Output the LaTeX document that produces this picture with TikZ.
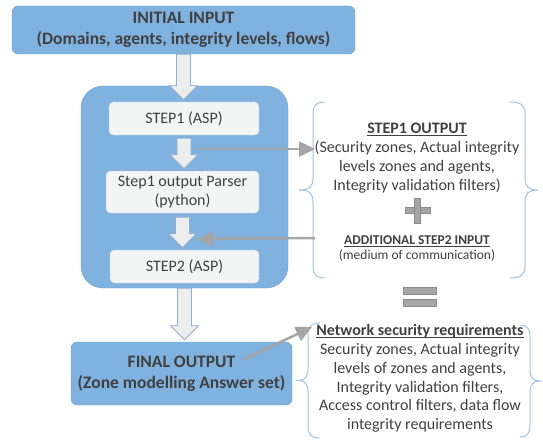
\documentclass[tikz,border=0pt]{standalone}
\usepackage{fontspec}
\setmainfont{Carlito}
\usepackage{tikz}
\usetikzlibrary{positioning}
\usetikzlibrary{arrows.meta}
\usetikzlibrary{calc}

\definecolor{boxblue}{HTML}{7FB2DF}
\definecolor{boxline}{HTML}{6C9ECF}
\definecolor{stepfill}{HTML}{F3F4F4}
\definecolor{stepline}{HTML}{AFCBE6}
\definecolor{txtgray}{HTML}{404040}
\definecolor{arrowgray}{HTML}{A5A5A5}
\definecolor{bracecol}{HTML}{9DC3E6}
\definecolor{blockfill}{HTML}{EDEDED}
\definecolor{blockline}{HTML}{92AECC}

\tikzset{
  bluebox/.style={draw=boxline,fill=boxblue,rounded corners=6pt,text=txtgray,align=center,
    font=\fontsize{17.5}{21}\selectfont\bfseries},
  stepbox/.style={draw=stepline,fill=stepfill,rounded corners=4pt,text=txtgray,align=center,
    font=\fontsize{16}{19}\selectfont},
  blockstyle/.style={draw=blockline,fill=blockfill,line width=0.8pt},
  grayarrow/.style={draw=arrowgray,line width=2.5pt,-{Triangle[length=16pt,width=15pt]}},
  bracestyle/.style={draw=bracecol,line width=1pt},
  signstyle/.style={fill=arrowgray,draw=arrowgray!85!black,line width=0.5pt},
  plaintext/.style={text=txtgray,align=center,inner sep=0pt}
}

% underline at a fixed depth
\newcommand{\uln}[1]{\setbox0\hbox{#1}\rlap{\rule[-2.2pt]{\wd0}{1.1pt}}\box0}

% block arrow: [gap] upper anchor, lower anchor
\newcommand{\blockarrow}[3][0]{%
  \coordinate (ba top) at ($(#2)+(0,#1)$);
  \coordinate (ba tip) at ($(#3 -| ba top)+(0,-2)$);
  \draw[blockstyle] ($(ba top)+(-7,0)$) -- ($(ba tip)+(-7,-14)$) -- ($(ba tip)+(-14,-14)$)
    -- (ba tip) -- ($(ba tip)+(14,-14)$) -- ($(ba tip)+(7,-14)$) -- ($(ba top)+(7,0)$) -- cycle;}

% curly brace: x of the spine, top y, bottom y, end offset, tip offset
\newcommand{\curly}[5]{%
  \pgfmathsetmacro{\ymid}{(#2+#3)/2}
  \draw[bracestyle] ({#1+#4},#2) .. controls ({#1+0.3*#4},#2) and (#1,{#2+3}) .. (#1,{#2+12})
    -- (#1,{\ymid-12}) .. controls (#1,{\ymid-3}) and ({#1-0.3*#5},\ymid) .. ({#1-#5},\ymid)
    .. controls ({#1-0.3*#5},\ymid) and (#1,{\ymid+3}) .. (#1,{\ymid+12})
    -- (#1,{#3-12}) .. controls (#1,{#3-3}) and ({#1+0.3*#4},#3) .. ({#1+#4},#3);}

\begin{document}
\begin{tikzpicture}[x=1pt,y=-1pt]
    \useasboundingbox (0,0) rectangle (543,441);

    % left column
    \node (container) [bluebox, rounded corners=22pt, minimum width=207pt, minimum height=202pt] at (184.5,187) {};
    \node (initial) [bluebox, minimum width=343pt, minimum height=48pt] at (183.5,30)
        {INITIAL INPUT\\(Domains, agents, integrity levels, flows)};
    \node (step1) [stepbox, minimum width=150pt, minimum height=33pt] at (184,118.5) {STEP1 (ASP)};
    \node (parser) [stepbox, minimum width=153pt, minimum height=42pt] at (182.5,192) {Step1 output Parser\\(python)};
    \node (step2) [stepbox, minimum width=149pt, minimum height=33pt] at (184.5,266.5) {STEP2 (ASP)};
    \node (final) [bluebox, minimum width=221pt, minimum height=63pt] at (181.5,373.5)
        {FINAL OUTPUT\\(Zone modelling Answer set)};

    \blockarrow{initial.south}{step1.north}
    \blockarrow[3]{step1.south}{parser.north}
    \blockarrow[4]{parser.south}{step2.north}
    \blockarrow{container.south}{final.north}

    % right column
    \node (step1out) [plaintext, font=\fontsize{16}{19}\selectfont] at (417,158.5)
        {\textbf{\uln{STEP1 OUTPUT}}\\(Security zones, Actual integrity\\levels zones and agents,\\Integrity validation filters)};
    \node (step2in) [plaintext, font=\fontsize{13.5}{15}\selectfont] at (417,248.5)
        {\textbf{\uln{ADDITIONAL STEP2 INPUT}}\\(medium of communication)};
    \node (netreq) [plaintext, font=\fontsize{16}{18.7}\selectfont] at (420,378.5)
        {\textbf{\uln{Network security requirements}}\\Security zones, Actual integrity\\levels of zones and agents,\\Integrity validation filters,\\Access control filters, data flow\\integrity requirements};

    \curly{313}{102}{278}{12}{14}
    \curly{525}{102}{278}{-15}{-13}
    \curly{308}{323}{438}{12}{10}
    \curly{530}{325}{437}{-10}{-10}

    % plus and equal signs
    \fill[signstyle] (405,207.5) rectangle (430,213.5);
    \fill[signstyle] (414.5,198) rectangle (420.5,223);
    \filldraw[signstyle] (403,287) rectangle (436,294);
    \filldraw[signstyle] (403,299) rectangle (436,306);

    % connectors
    \coordinate (s1tap) at (198,149);
    \coordinate (s1in) at (315,149);
    \coordinate (s2tap) at (315,238);
    \coordinate (s2in) at (197,239);
    \coordinate (fintap) at (243,360);
    \coordinate (netin) at (312,327);
    \draw [grayarrow] (s1tap) -- (s1in);
    \draw [grayarrow] (s2tap) -- (s2in);
    \draw [grayarrow] (fintap) -- (netin);
\end{tikzpicture}
\end{document}
